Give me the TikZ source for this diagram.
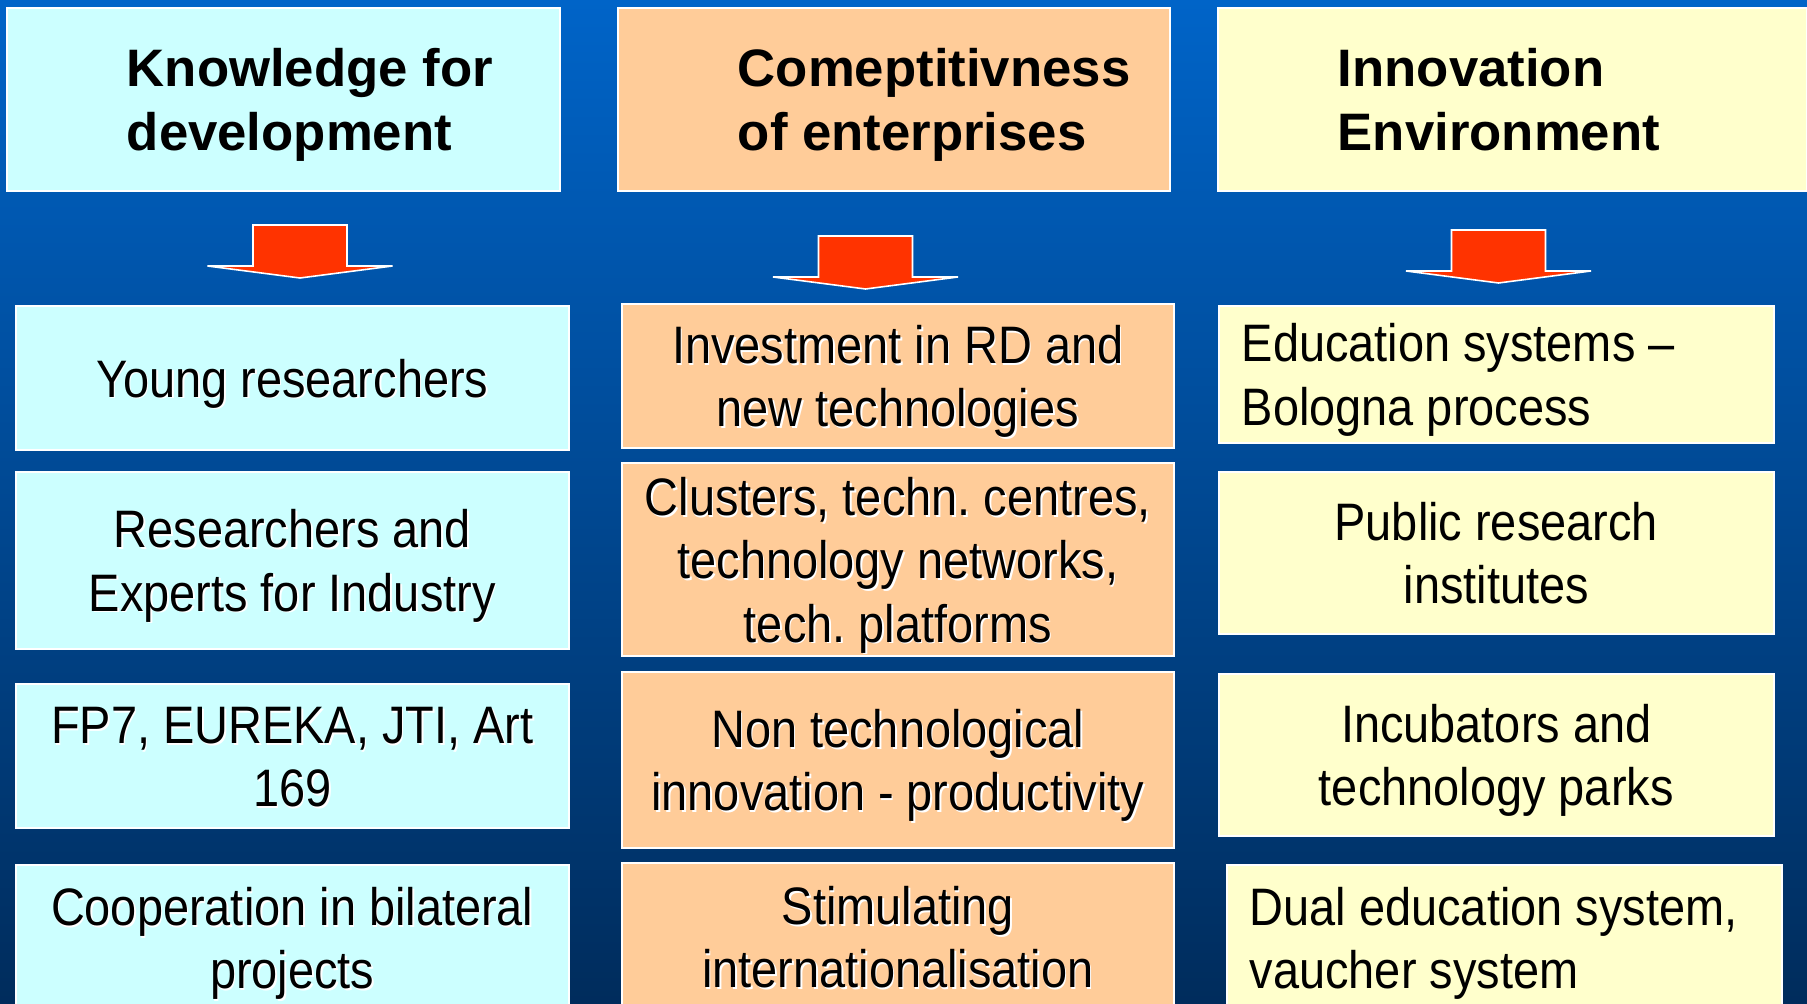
\documentclass[tikz,border=0pt]{standalone}
\usepackage{fontspec}
\setmainfont{Liberation Sans}
\newfontfamily\narrowfont[FakeStretch=0.89]{Liberation Sans}
\usepackage{tikz}
\frenchspacing

\definecolor{knowcyan}{HTML}{CCFFFF}
\definecolor{compeach}{HTML}{FFCC99}
\definecolor{envyellow}{HTML}{FFFFCC}
\definecolor{arrowred}{HTML}{FF3300}
\definecolor{bgtop}{HTML}{0064C8}
\definecolor{bgbottom}{HTML}{002C5C}

% text with a light shadow
\newcommand{\shd}[1]{\leavevmode\rlap{\hspace{0.17mm}\raisebox{-0.17mm}{\color{white}#1}}#1}

\tikzset{
  cell/.style={draw=white, line width=0.45pt, anchor=north west, inner xsep=0pt, inner ysep=0pt,
    align=flush center, font=\narrowfont\fontsize{15}{18}\selectfont,
    execute at begin node={\rule{0pt}{15pt}},
    execute at end node={\rule[-4pt]{0pt}{4pt}}},
  knowcell/.style={cell, fill=knowcyan, text width=55.3mm},
  compcell/.style={cell, fill=compeach, text width=55.2mm},
  envcell/.style={cell, fill=envyellow, text width=55.5mm},
  leftcell/.style={align=flush left, text width=50.9mm, inner xsep=2.3mm},
  heading/.style={draw=white, line width=0.45pt, anchor=north west, inner xsep=0pt, inner ysep=0pt,
    minimum height=18.3mm, align=flush left, font=\bfseries\fontsize{15}{18}\selectfont,
    execute at begin node={\leftskip=12mm\rule{0pt}{15pt}},
    execute at end node={\rule[-4pt]{0pt}{4pt}}},
  blockarrow/.pic={
    \filldraw[fill=arrowred, draw=white, line width=0.45pt]
      (-47,0) -- (47,0) -- (47,41) -- (92.5,41) -- (0,53) -- (-92.5,41) -- (-47,41) -- cycle;
  }
}

\begin{document}
\begin{tikzpicture}[x=0.1mm, y=-0.1mm]
  \useasboundingbox (0,0) rectangle (1807,1004);
  \fill[top color=bgtop, bottom color=bgbottom] (0,0) rectangle (1807,1004);

  % headings
  \node[heading, fill=knowcyan, text width=55.3mm] (knowledge) at (6,7) {Knowledge for\\development};
  \node[heading, fill=compeach, text width=55.2mm] (compet) at (617,7) {Comeptitivness\\of enterprises};
  \node[heading, fill=envyellow, text width=58.9mm] (environ) at (1217,7) {Innovation\\Environment};

  \pic at (300,225) {blockarrow};
  \pic at (865.5,236) {blockarrow};
  \pic at (1498.5,230) {blockarrow};

  % knowledge column
  \node[knowcell, minimum height=14.4mm] (young) at (15,305) {\shd{Young researchers}};
  \node[knowcell, minimum height=17.7mm] (experts) at (15,471) {\shd{Researchers and}\\\shd{Experts for Industry}};
  \node[knowcell, minimum height=14.4mm] (programmes) at (15,683) {\shd{FP7, EUREKA, JTI, Art}\\\shd{169}};
  \node[knowcell, minimum height=14.6mm] (bilateral) at (15,864) {\shd{Cooperation in bilateral}\\\shd{projects}};

  % competitiveness column
  \node[compcell, minimum height=14.4mm] (invest) at (621,303) {\shd{Investment in RD and}\\\shd{new technologies}};
  \node[compcell, minimum height=19.3mm] (clusters) at (621,462) {\shd{Clusters, techn. centres,}\\\shd{technology networks,}\\\shd{tech. platforms}};
  \node[compcell, minimum height=17.6mm] (nontech) at (621,671) {\shd{Non technological}\\\shd{innovation - productivity}};
  \node[compcell, minimum height=14.8mm] (internat) at (621,862) {\shd{Stimulating}\\\shd{internationalisation}};

  % environment column
  \node[envcell, leftcell, minimum height=13.7mm] (bologna) at (1218,305) {Education systems –\\Bologna process};
  \node[envcell, minimum height=16.2mm] (institutes) at (1218,471) {Public research\\institutes};
  \node[envcell, minimum height=16.2mm] (parks) at (1218,673) {Incubators and\\technology parks};
  \node[envcell, leftcell, minimum height=14.6mm] (dual) at (1226,864) {Dual education system,\\vaucher system};
\end{tikzpicture}
\end{document}
